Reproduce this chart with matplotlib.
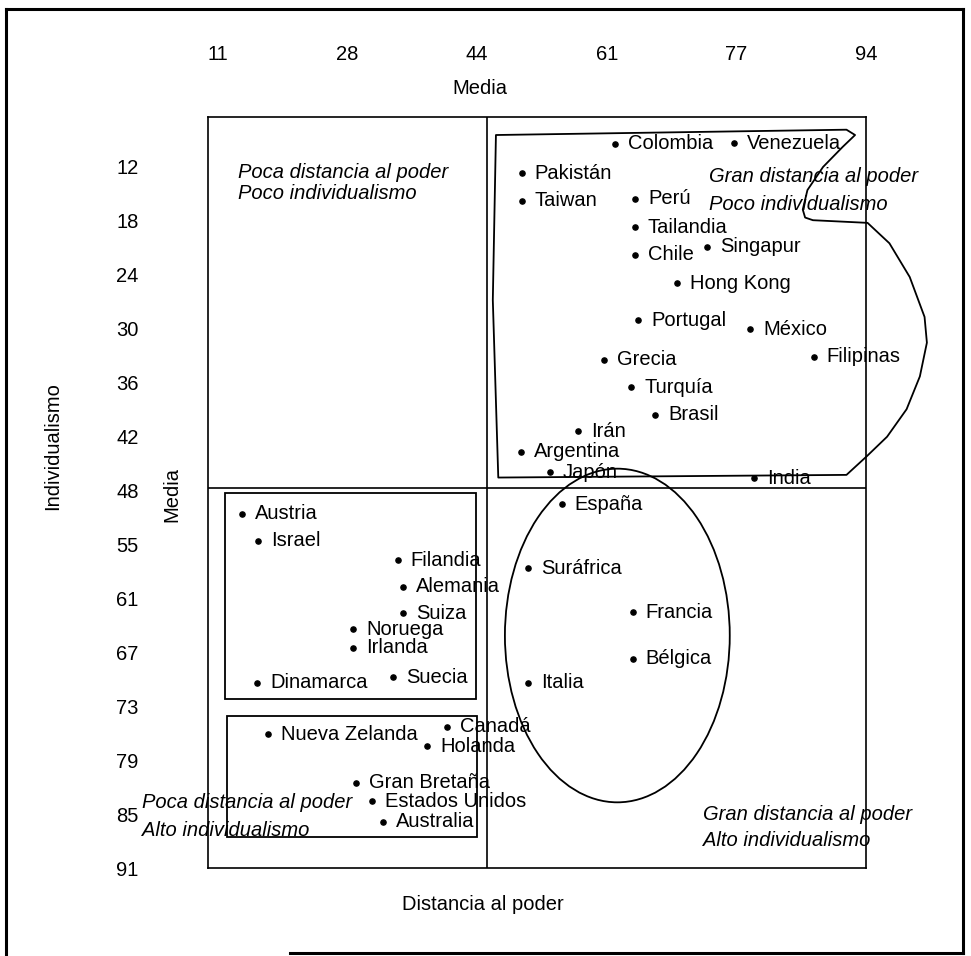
import matplotlib
matplotlib.use("Agg")
import matplotlib.pyplot as plt
from matplotlib.patches import Rectangle, Ellipse, Polygon
from matplotlib.lines import Line2D

plt.rcParams['font.family'] = ['Liberation Sans', 'DejaVu Sans']

# ---------------- data ----------------
countries = ["Colombia", "Venezuela", "Pakistán", "Taiwan", "Perú", "Tailandia",
             "Chile", "Singapur", "Hong Kong", "Portugal", "México", "Filipinas",
             "Grecia", "Turquía", "Brasil", "Irán", "Argentina", "Japón", "India",
             "España", "Suráfrica", "Francia", "Bélgica", "Italia",
             "Austria", "Israel", "Filandia", "Alemania", "Suiza", "Noruega",
             "Irlanda", "Dinamarca", "Suecia",
             "Nueva Zelanda", "Canadá", "Holanda", "Gran Bretaña",
             "Estados Unidos", "Australia"]
power_distance = [61.8, 77.1, 49.9, 49.9, 64.4, 64.4,
                  64.4, 73.6, 69.8, 64.8, 79.2, 87.3,
                  60.4, 63.9, 67.0, 57.1, 49.8, 53.5, 79.6,
                  55.0, 50.7, 64.1, 64.1, 50.7,
                  14.1, 16.1, 34.0, 34.7, 34.7, 28.3,
                  28.3, 16.0, 33.4,
                  17.4, 40.3, 37.8, 28.7,
                  30.7, 32.1]
individualism = [9.4, 9.3, 12.7, 15.8, 15.6, 18.8,
                 21.9, 21.0, 25.1, 29.3, 30.3, 33.4,
                 33.7, 36.8, 39.9, 41.8, 44.1, 46.4, 47.1,
                 50.0, 57.2, 62.2, 67.4, 70.1,
                 51.1, 54.1, 56.3, 59.3, 62.3, 64.1,
                 66.2, 70.1, 69.5,
                 75.9, 75.1, 77.3, 81.4,
                 83.5, 85.8]

x_ticks = [11, 27.6, 44.2, 60.8, 77.4, 94]
x_tick_labels = ["11", "28", "44", "61", "77", "94"]
y_ticks = [12, 18.08, 24.15, 30.23, 36.31, 42.38, 48.46, 54.54, 60.62,
           66.69, 72.77, 78.85, 84.92, 91]
y_tick_labels = ["12", "18", "24", "30", "36", "42", "48", "55", "61",
                 "67", "73", "79", "85", "91"]

mean_power_distance = 45.4
mean_individualism = 48.2

# ---------------- figure ----------------
W, H = 971, 956
fig = plt.figure(figsize=(W / 100, H / 100), dpi=100)
fig.patch.set_facecolor("white")

def fx(px):
    return px / W

def fy(py):
    return 1 - py / H

left, right, top, bottom = 208, 866, 117, 868
ax = fig.add_axes([fx(left), fy(bottom), (right - left) / W, (bottom - top) / H])
ax.set_xlim(9.72, 94.0)
ax.set_ylim(90.9, 6.37)
for s in ax.spines.values():
    s.set_linewidth(1.2)
    s.set_color("black")

FS = 14.5

ax.xaxis.tick_top()
ax.set_xticks(x_ticks)
ax.set_xticklabels(x_tick_labels, fontsize=FS)
ax.set_yticks(y_ticks)
ax.set_yticklabels(y_tick_labels, fontsize=FS)
ax.tick_params(axis="x", length=0, pad=38)
ax.tick_params(axis="y", length=0, pad=50)

# mean lines
ax.axvline(mean_power_distance, color="black", lw=1.2)
ax.axhline(mean_individualism, color="black", lw=1.2)

# points and labels
ax.scatter(power_distance, individualism, s=14, color="black", zorder=3)
for name, x, y in zip(countries, power_distance, individualism):
    ax.annotate(name, (x, y), xytext=(9.4, 0), textcoords="offset points",
                va="center", ha="left", fontsize=FS, annotation_clip=False)

# group boxes (lower-left quadrant)
ax.add_patch(Rectangle((11.9, 48.7), 44.0 - 11.9, 71.9 - 48.7,
                       fill=False, lw=1.3, ec="black"))
ax.add_patch(Rectangle((12.2, 73.9), 44.2 - 12.2, 87.5 - 73.9,
                       fill=False, lw=1.3, ec="black"))

# ellipse (lower-right cluster)
ax.add_patch(Ellipse((62.15, 64.8), 28.8, 37.6, fill=False, lw=1.3,
                     ec="black", clip_on=False))

# irregular outline (upper-right cluster)
outline_x = [46.6, 91.5, 92.6, 91.0, 88.5, 86.5, 85.9, 86.2, 87.2, 94.2,
             97.0, 99.6, 101.5, 101.8, 100.9, 99.2, 96.7, 94.1, 91.5,
             46.9, 46.2]
outline_y = [8.4, 7.8, 8.4, 9.75, 12.0, 14.6, 16.8, 17.7, 18.0, 18.3,
             20.6, 24.4, 28.9, 31.8, 35.6, 39.3, 42.4, 44.6, 46.7,
             47.0, 27.0]
ax.add_patch(Polygon(list(zip(outline_x, outline_y)), closed=True, fill=False,
                     lw=1.3, ec="black", clip_on=False, joinstyle="round"))

# quadrant captions
def caption(px, py, s):
    fig.text(fx(px), fy(py), s, fontsize=FS, style="italic",
             ha="left", va="center")

caption(238, 173, "Poca distancia al poder")
caption(238, 193, "Poco individualismo")
caption(709, 177, "Gran distancia al poder")
caption(709, 205, "Poco individualismo")
caption(142, 803, "Poca distancia al poder")
caption(142, 830, "Alto individualismo")
caption(703, 815, "Gran distancia al poder")
caption(703, 841, "Alto individualismo")

# axis titles
fig.text(fx(480), fy(88), "Media", fontsize=FS, ha="center", va="center")
fig.text(fx(172), fy(495), "Media", fontsize=FS, ha="center", va="center",
         rotation=90)
fig.text(fx(53), fy(446), "Individualismo", fontsize=FS, ha="center",
         va="center", rotation=90)
fig.text(fx(483), fy(905), "Distancia al poder", fontsize=FS, ha="center",
         va="center")

# page border (scanned frame)
border_lines = [((6, 6), (9, 956)), ((6, 963), (9, 9)), ((963, 963), (9, 953)),
                ((290, 963), (953, 953))]
for xs, ys in border_lines:
    fig.add_artist(Line2D([fx(v) for v in xs], [fy(v) for v in ys],
                          color="black", lw=2.2, transform=fig.transFigure))

fig.savefig("out.png", dpi=100, facecolor="white")
